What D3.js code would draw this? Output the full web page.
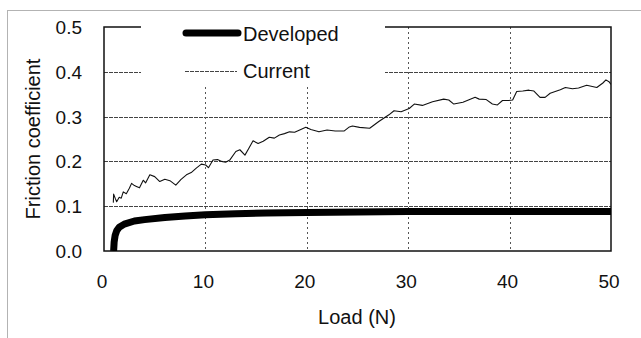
<!DOCTYPE html>
<html>
<head>
<meta charset="utf-8">
<script src="https://cdn.jsdelivr.net/npm/d3@7"></script>
<style>
  body { margin: 0; background: #fff; }
  svg { display: block; font-family: "Liberation Sans", Arial, sans-serif; }
</style>
</head>
<body>
<svg id="chart" width="641" height="338"></svg>
<script>
// axis ticks
var xTicks = [0, 10, 20, 30, 40, 50];
var yTicks = [0, 0.1, 0.2, 0.3, 0.4, 0.5];

// Developed: [load N, friction coefficient]
var developed = [
    [0.95, 0], [1.0, 0.02], [1.1, 0.035], [1.25, 0.045], [1.5, 0.053], [2, 0.06],
    [3, 0.067], [4, 0.07], [6, 0.075], [8, 0.078], [10, 0.081], [13, 0.083],
    [16, 0.085], [20, 0.086], [25, 0.087], [30, 0.088], [35, 0.088], [40, 0.088],
    [45, 0.088], [50, 0.088]
];

// Current: [load N, friction coefficient]
var current = [
    [0.92, 0.108], [0.95, 0.127], [1.1, 0.118], [1.25, 0.11], [1.5, 0.12], [1.7, 0.118],
    [1.9, 0.132], [2.2, 0.128], [2.5, 0.14], [2.72, 0.151], [3.0, 0.146], [3.2, 0.144],
    [3.5, 0.141], [3.87, 0.158], [4.1, 0.152], [4.52, 0.17], [5.0, 0.166], [5.5, 0.155],
    [6.0, 0.16], [6.5, 0.157], [7.08, 0.147], [7.6, 0.16], [8.13, 0.17], [8.6, 0.175],
    [9.1, 0.185], [9.6, 0.194], [10.03, 0.192], [10.3, 0.186], [10.75, 0.203], [11.2, 0.204],
    [11.6, 0.2], [12.0, 0.198], [12.4, 0.203], [13.0, 0.222], [13.4, 0.226], [13.9, 0.214],
    [14.3, 0.23], [14.7, 0.246], [15.2, 0.24], [15.7, 0.245], [16.3, 0.254], [16.8, 0.252],
    [17.3, 0.259], [17.8, 0.262], [18.3, 0.266], [18.8, 0.265], [19.3, 0.27], [19.9, 0.276],
    [20.4, 0.271], [21.2, 0.266], [22.0, 0.27], [22.8, 0.268], [23.7, 0.268], [24.2, 0.277],
    [24.5, 0.279], [25.2, 0.276], [26.2, 0.274], [27.1, 0.289], [28.1, 0.304], [28.6, 0.313],
    [29.3, 0.311], [30.1, 0.318], [30.6, 0.328], [31.4, 0.325], [32.4, 0.333], [33.5, 0.339],
    [34.0, 0.337], [34.5, 0.328], [35.4, 0.332], [36.6, 0.343], [37.0, 0.339], [37.7, 0.338],
    [38.3, 0.328], [38.8, 0.326], [39.3, 0.336], [39.9, 0.336], [40.3, 0.337], [40.7, 0.356],
    [41.3, 0.357], [41.9, 0.359], [42.4, 0.357], [43.0, 0.343], [43.5, 0.343], [44.0, 0.352],
    [45.0, 0.36], [45.5, 0.365], [46.2, 0.362], [46.8, 0.364], [47.6, 0.37], [48.6, 0.365],
    [49.2, 0.375], [49.5, 0.382], [49.8, 0.378], [50, 0.372]
];

var svg = d3.select("#chart");
var plotLeft = 104, plotRight = 611, plotTop = 27, plotBottom = 251;

var x = d3.scaleLinear().domain([0, 50]).range([plotLeft, plotRight]);
var y = d3.scaleLinear().domain([0, 0.5]).range([plotBottom, plotTop]);

// outer dotted frame (runs off the right/bottom of the picture)
svg.append("rect")
    .attr("x", 7.5).attr("y", 10.5)
    .attr("width", 700).attr("height", 400)
    .attr("fill", "none")
    .attr("stroke", "#666")
    .attr("stroke-width", 1)
    .attr("stroke-dasharray", "1,1");

// horizontal grid
svg.append("g").selectAll("line")
    .data(yTicks.slice(1, 5))
    .enter().append("line")
    .attr("x1", plotLeft).attr("x2", plotRight)
    .attr("y1", function (d) { return Math.round(y(d)) + 0.5; })
    .attr("y2", function (d) { return Math.round(y(d)) + 0.5; })
    .attr("stroke", "#444")
    .attr("stroke-width", 1)
    .attr("stroke-dasharray", "4,1");

// vertical grid
svg.append("g").selectAll("line")
    .data(xTicks.slice(1, 5))
    .enter().append("line")
    .attr("x1", function (d) { return Math.round(x(d)) + 0.5; })
    .attr("x2", function (d) { return Math.round(x(d)) + 0.5; })
    .attr("y1", plotTop).attr("y2", plotBottom)
    .attr("stroke", "#555")
    .attr("stroke-width", 1)
    .attr("stroke-dasharray", "2,3");

// plot frame
svg.append("rect")
    .attr("x", plotLeft).attr("y", plotTop)
    .attr("width", plotRight - plotLeft).attr("height", plotBottom - plotTop)
    .attr("fill", "none")
    .attr("stroke", "#111")
    .attr("stroke-width", 1.5);

svg.append("clipPath").attr("id", "plotclip")
    .append("rect")
    .attr("x", plotLeft).attr("y", plotTop - 5)
    .attr("width", plotRight - plotLeft).attr("height", plotBottom - plotTop + 5);

var line = d3.line()
    .x(function (d) { return x(d[0]); })
    .y(function (d) { return y(d[1]); })
    .curve(d3.curveLinear);

var plot = svg.append("g").attr("clip-path", "url(#plotclip)");

plot.append("path")
    .datum(current)
    .attr("d", line)
    .attr("fill", "none")
    .attr("stroke", "#111")
    .attr("stroke-width", 1.1)
    .attr("stroke-linejoin", "round");

plot.append("path")
    .datum(developed)
    .attr("d", line)
    .attr("fill", "none")
    .attr("stroke", "#000")
    .attr("stroke-width", 7)
    .attr("stroke-linejoin", "round");

// y tick labels
svg.append("g").selectAll("text")
    .data(yTicks)
    .enter().append("text")
    .attr("x", 82)
    .attr("y", function (d) { return y(d) + 7; })
    .attr("text-anchor", "end")
    .attr("font-size", "19px")
    .attr("fill", "#111")
    .text(function (d) { return d3.format(".1f")(d); });

// x tick labels
svg.append("g").selectAll("text")
    .data(xTicks)
    .enter().append("text")
    .attr("x", function (d) { return x(d) - 2; })
    .attr("y", 288)
    .attr("text-anchor", "middle")
    .attr("font-size", "19px")
    .attr("fill", "#111")
    .text(function (d) { return d; });

// axis titles
svg.append("text")
    .attr("x", 357).attr("y", 324)
    .attr("text-anchor", "middle")
    .attr("font-size", "20px")
    .attr("fill", "#111")
    .text("Load (N)");

svg.append("text")
    .attr("transform", "translate(40,139) rotate(-90)")
    .attr("text-anchor", "middle")
    .attr("font-size", "20px")
    .attr("fill", "#111")
    .text("Friction coefficient");

// legend, white box over the frame and grid
var legend = svg.append("g");
legend.append("rect")
    .attr("x", 141).attr("y", 18)
    .attr("width", 244).attr("height", 68)
    .attr("fill", "#fff");

legend.append("line")
    .attr("x1", 186).attr("x2", 238)
    .attr("y1", 33).attr("y2", 33)
    .attr("stroke", "#000")
    .attr("stroke-width", 7)
    .attr("stroke-linecap", "round");
legend.append("text")
    .attr("x", 243).attr("y", 41)
    .attr("font-size", "20px")
    .attr("fill", "#111")
    .text("Developed");

legend.append("line")
    .attr("x1", 185).attr("x2", 237)
    .attr("y1", 71.5).attr("y2", 71.5)
    .attr("stroke", "#444")
    .attr("stroke-width", 1)
    .attr("stroke-dasharray", "4,1");
legend.append("text")
    .attr("x", 243).attr("y", 78)
    .attr("font-size", "20px")
    .attr("fill", "#111")
    .text("Current");
</script>
</body>
</html>
